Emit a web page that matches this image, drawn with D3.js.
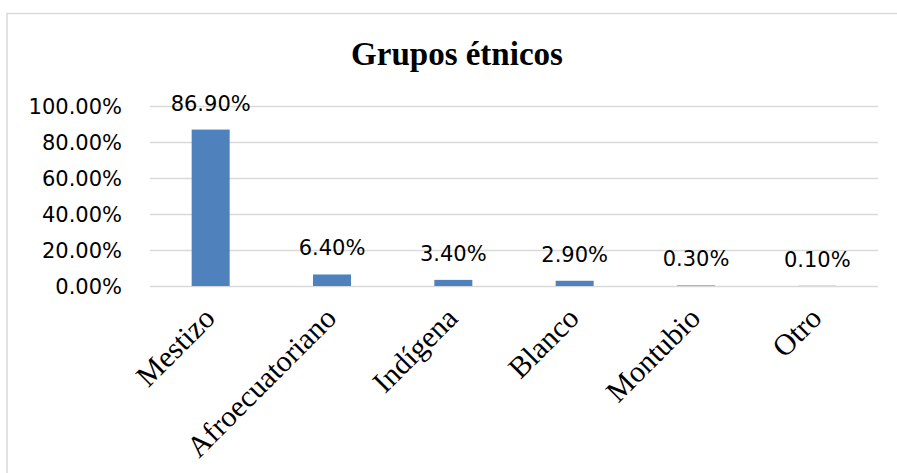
<!DOCTYPE html>
<html>
<head>
<meta charset="utf-8">
<script src="https://cdn.jsdelivr.net/npm/d3@7"></script>
<style>
  body { margin: 0; background: #fff; }
</style>
</head>
<body>
<svg></svg>
<script>
const title = "Grupos étnicos";
const categories = ["Mestizo", "Afroecuatoriano", "Indígena", "Blanco", "Montubio", "Otro"];
const values = [0.869, 0.064, 0.034, 0.029, 0.003, 0.001];
const yTicks = [0, 0.2, 0.4, 0.6, 0.8, 1.0];

const width = 897;
const height = 473;
const plot = { left: 150, right: 878, top: 106, bottom: 286 };
const svg = d3.select("svg").attr("width", width).attr("height", height);

// chart frame
svg.append("rect")
  .attr("x", 7).attr("y", 13.5)
  .attr("width", 900).attr("height", 470)
  .attr("fill", "#fff")
  .attr("stroke", "#d9d9d9")
  .attr("stroke-width", 1.5);

const xScale = d3.scaleBand()
  .domain(categories)
  .range([plot.left, plot.right]);

const yScale = d3.scaleLinear()
  .domain([0, 1])
  .range([plot.bottom, plot.top]);

// gridlines + y labels
const yAxis = d3.axisLeft(yScale)
  .tickValues(yTicks)
  .tickSize(-(plot.right - plot.left))
  .tickPadding(28)
  .tickFormat(d => (d * 100).toFixed(2) + "%");

const gy = svg.append("g")
  .attr("transform", "translate(" + plot.left + ",0)")
  .call(yAxis);
gy.select(".domain").remove();
gy.selectAll(".tick line").attr("stroke", "#d9d9d9").attr("stroke-width", 1.5);
gy.selectAll(".tick text")
  .attr("fill", "#000")
  .style("font-family", "'DejaVu Sans', sans-serif")
  .style("font-size", "21px")
  .attr("dy", "0.36em");

// bars
const barWidth = 38;
svg.selectAll(".bar")
  .data(values)
  .enter()
  .append("rect")
  .attr("class", "bar")
  .attr("x", (d, i) => xScale(categories[i]) + xScale.bandwidth() / 2 - barWidth / 2)
  .attr("y", d => yScale(d))
  .attr("width", barWidth)
  .attr("height", d => yScale(0) - yScale(d))
  .attr("fill", "#4f81bd");

// data labels
svg.selectAll(".lbl")
  .data(values)
  .enter()
  .append("text")
  .attr("class", "lbl")
  .attr("x", (d, i) => xScale(categories[i]) + xScale.bandwidth() / 2)
  .attr("y", d => yScale(d) - 19)
  .attr("text-anchor", "middle")
  .style("font-family", "'DejaVu Sans', sans-serif")
  .style("font-size", "21px")
  .text(d => (d * 100).toFixed(2) + "%");

// x axis labels
const xAxis = d3.axisBottom(xScale).tickSize(0).tickPadding(0);
const gx = svg.append("g")
  .attr("transform", "translate(0," + plot.bottom + ")")
  .call(xAxis);
gx.select(".domain").remove();
gx.selectAll(".tick text")
  .attr("fill", "#000")
  .style("font-family", "'Liberation Serif', 'Times New Roman', serif")
  .style("font-size", "30px")
  .attr("text-anchor", "end")
  .attr("y", 0)
  .attr("dy", 0)
  .attr("transform", "translate(6,34) rotate(-45)");

// title
svg.append("text")
  .attr("x", 457)
  .attr("y", 65)
  .attr("text-anchor", "middle")
  .style("font-family", "'Liberation Serif', 'Times New Roman', serif")
  .style("font-weight", "bold")
  .style("font-size", "33px")
  .text(title);
</script>
</body>
</html>
